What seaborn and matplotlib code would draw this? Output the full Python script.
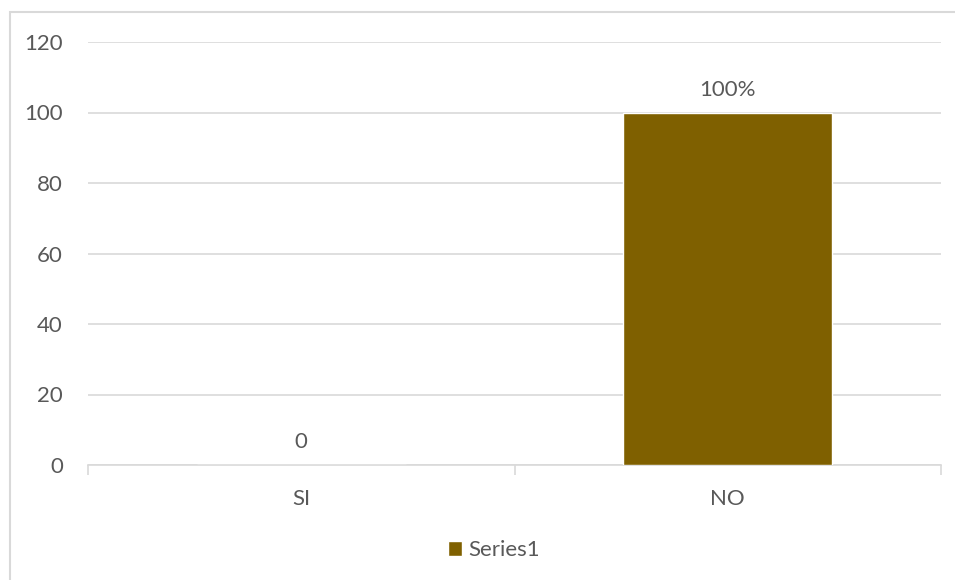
import matplotlib
matplotlib.use("Agg")
import matplotlib.pyplot as plt
import seaborn as sns
import pandas as pd
from matplotlib.patches import Rectangle

# --- data ---
categories = ['SI', 'NO']
values = [0, 100]
bar_labels = ['0', '100%']
series_name = 'Series1'
y_ticks = [0, 20, 40, 60, 80, 100, 120]

bar_color = '#7F6000'
text_color = '#595959'
grid_color = '#D9D9D9'

sns.set_theme(style='white')
plt.rcParams['font.family'] = ['Lato', 'DejaVu Sans']
fs = 16

df = pd.DataFrame({'category': categories, 'value': values, 'series': series_name})

fig = plt.figure(figsize=(9.55, 5.8), dpi=100)
ax = fig.add_axes([88 / 955, 1 - 465 / 580, (941 - 88) / 955, (465 - 42) / 580])

sns.barplot(data=df, x='category', y='value', hue='series', palette=[bar_color],
            saturation=1, width=0.49, ax=ax, legend=True, zorder=3)

ax.set_ylim(0, 120)
ax.set_yticks(y_ticks)
ax.set_xlim(-0.5, 1.5)
ax.yaxis.grid(True, color=grid_color, linewidth=1.2, zorder=0)
ax.set_axisbelow(True)
for s in ['top', 'right', 'left']:
    ax.spines[s].set_visible(False)
ax.spines['bottom'].set_color(grid_color)
ax.spines['bottom'].set_linewidth(1.2)
ax.set_xlabel('')
ax.set_ylabel('')

# category boundary tick marks on the x axis
ax.set_xticks([-0.5, 0.5, 1.5], minor=True)
ax.tick_params(axis='x', which='minor', length=7, width=1.2, color=grid_color, bottom=True)
ax.tick_params(axis='x', which='major', length=0, pad=17, labelsize=fs, labelcolor=text_color)
ax.tick_params(axis='y', length=0, pad=18, labelsize=fs, labelcolor=text_color)

for i, (v, lab) in enumerate(zip(values, bar_labels)):
    ax.annotate(lab, (i, v), xytext=(0, 9), textcoords='offset points',
                ha='center', va='bottom', fontsize=fs, color=text_color)

leg = ax.legend(loc='center', bbox_to_anchor=(494 / 955, (580 - 550) / 580), bbox_transform=fig.transFigure,
                frameon=False, fontsize=fs, handlelength=0.65, handleheight=0.65,
                handletextpad=0.3, labelcolor=text_color)

# chart area border
fig.patches.append(Rectangle((10 / 955, -0.05), 1.2, (580 - 12) / 580 + 0.05,
                             transform=fig.transFigure, fill=False,
                             edgecolor=grid_color, linewidth=1.5))

fig.savefig('out.png', dpi=100)
